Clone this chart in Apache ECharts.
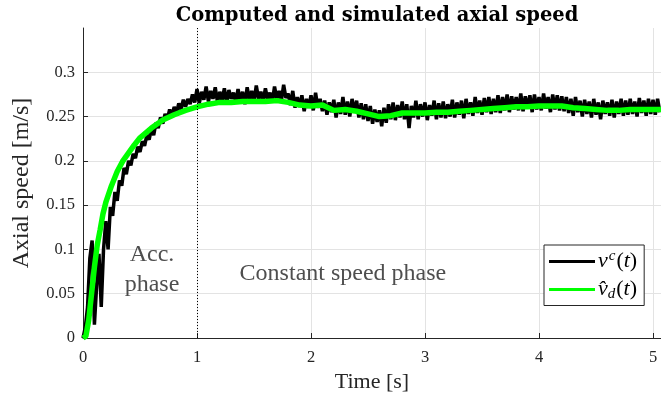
<!DOCTYPE html>
<html>
<head>
<meta charset="utf-8">
<script src="https://cdn.jsdelivr.net/npm/echarts@6/dist/echarts.min.js"></script>
<style>
    html, body { margin: 0; padding: 0; background: #fff; }
    #chart { width: 661px; height: 401px; }
</style>
</head>
<body>
<div id="chart"></div>
<script>
var blackStep = 0.02;
var blackSpeed = [
    0, 0.012, 0.035, 0.09, 0.11, 0.015, 0.06, 0.095, 0.035, 0.1,
    0.132, 0.1, 0.148, 0.138, 0.165, 0.155, 0.178, 0.172, 0.192, 0.185,
    0.2, 0.195, 0.208, 0.203, 0.216, 0.21, 0.222, 0.217, 0.229, 0.224,
    0.236, 0.229, 0.243, 0.237, 0.249, 0.242, 0.253, 0.247, 0.258, 0.251,
    0.261, 0.254, 0.265, 0.258, 0.269, 0.261, 0.27, 0.264, 0.275, 0.266,
    0.281, 0.265, 0.278, 0.269, 0.284, 0.267, 0.279, 0.27, 0.283, 0.266,
    0.278, 0.268, 0.282, 0.265, 0.28, 0.27, 0.277, 0.266, 0.281, 0.268,
    0.278, 0.264, 0.283, 0.269, 0.279, 0.267, 0.285, 0.27, 0.278, 0.267,
    0.282, 0.269, 0.277, 0.266, 0.284, 0.27, 0.279, 0.268, 0.286, 0.271,
    0.276, 0.263, 0.279, 0.26, 0.272, 0.261, 0.274, 0.256, 0.27, 0.26,
    0.274, 0.257, 0.277, 0.26, 0.27, 0.256, 0.268, 0.252, 0.266, 0.255,
    0.269, 0.249, 0.266, 0.253, 0.272, 0.252, 0.267, 0.25, 0.27, 0.255,
    0.268, 0.249, 0.265, 0.247, 0.264, 0.245, 0.262, 0.242, 0.258, 0.244,
    0.257, 0.239, 0.26, 0.243, 0.264, 0.247, 0.266, 0.246, 0.263, 0.249,
    0.267, 0.247, 0.264, 0.237, 0.262, 0.249, 0.268, 0.247, 0.264, 0.25,
    0.266, 0.246, 0.263, 0.251, 0.268, 0.247, 0.265, 0.249, 0.267, 0.248,
    0.264, 0.25, 0.269, 0.249, 0.266, 0.252, 0.268, 0.248, 0.27, 0.253,
    0.266, 0.251, 0.272, 0.254, 0.268, 0.252, 0.271, 0.255, 0.272, 0.253,
    0.27, 0.255, 0.274, 0.254, 0.272, 0.257, 0.275, 0.255, 0.273, 0.258,
    0.272, 0.257, 0.276, 0.256, 0.273, 0.259, 0.274, 0.255, 0.275, 0.258,
    0.272, 0.257, 0.276, 0.259, 0.272, 0.255, 0.275, 0.258, 0.274, 0.257,
    0.273, 0.256, 0.272, 0.254, 0.27, 0.251, 0.272, 0.255, 0.268, 0.25,
    0.269, 0.253, 0.267, 0.249, 0.27, 0.252, 0.266, 0.247, 0.268, 0.253,
    0.266, 0.251, 0.269, 0.249, 0.267, 0.253, 0.27, 0.251, 0.268, 0.252,
    0.27, 0.253, 0.267, 0.25, 0.271, 0.254, 0.268, 0.251, 0.27, 0.253,
    0.269, 0.252, 0.27, 0.255
];

// simulated speed v_d(t)
var greenTime = [
    0, 0.025, 0.05, 0.075, 0.1, 0.125, 0.15, 0.175, 0.2, 0.25,
    0.3, 0.35, 0.4, 0.45, 0.5, 0.6, 0.7, 0.8, 0.9, 1.0,
    1.1, 1.2, 1.3, 1.4, 1.5, 1.6, 1.7, 1.8, 1.9, 2.0,
    2.1, 2.2, 2.3, 2.4, 2.5, 2.6, 2.7, 2.8, 2.9, 3.0,
    3.1, 3.2, 3.3, 3.4, 3.5, 3.6, 3.7, 3.8, 3.9, 4.0,
    4.1, 4.2, 4.3, 4.4, 4.5, 4.6, 4.7, 4.8, 4.9, 5.0, 5.07
];
var greenSpeed = [
    0, 0.002, 0.02, 0.05, 0.08, 0.105, 0.122, 0.14, 0.153, 0.172,
    0.188, 0.2, 0.209, 0.218, 0.226, 0.237, 0.246, 0.252, 0.257, 0.261,
    0.264, 0.266, 0.266, 0.267, 0.267, 0.267, 0.268, 0.266, 0.263, 0.262,
    0.263, 0.257, 0.258, 0.256, 0.253, 0.25, 0.251, 0.254, 0.254, 0.254,
    0.255, 0.255, 0.256, 0.257, 0.258, 0.259, 0.26, 0.261, 0.261, 0.262,
    0.262, 0.262, 0.26, 0.259, 0.258, 0.257, 0.257, 0.258, 0.258, 0.258, 0.258
];

var phaseSwitch = 1;   // end of acceleration phase [s]
var notes = [
    { text: 'Acc.\nphase', at: [0.605, 0.077] },
    { text: 'Constant speed phase', at: [2.28, 0.073] }
];

var serif = '"Liberation Serif", "DejaVu Serif", serif';
var axisColor = '#262626';

var blackData = blackSpeed.map(function (v, i) { return [i * blackStep, v]; });
var greenData = greenTime.map(function (t, i) { return [t, greenSpeed[i]]; });

var dom = document.getElementById('chart');
var myChart = echarts.init(dom, null, { renderer: 'canvas' });

var legendRich = {
    it: { fontFamily: serif, fontStyle: 'italic', fontSize: 22, color: '#000' },
    rm: { fontFamily: serif, fontSize: 22, color: '#000' },
    sup: { fontFamily: serif, fontStyle: 'italic', fontSize: 15, color: '#000', padding: [0, 1, 10, 1] },
    sub: { fontFamily: serif, fontStyle: 'italic', fontSize: 15, color: '#000', padding: [9, 1, 0, 0] }
};

var option = {
    animation: false,
    backgroundColor: '#fff',
    title: {
        text: 'Computed and simulated axial speed',
        left: 372,
        textAlign: 'center',
        top: 1,
        textStyle: { fontFamily: '"DejaVu Serif", serif', fontWeight: 'bold', fontSize: 19.5, color: '#000' }
    },
    grid: { left: 83, right: 0, top: 28, bottom: 63, containLabel: false },
    legend: {
        left: 544,
        top: 245,
        orient: 'vertical',
        backgroundColor: '#fff',
        borderColor: axisColor,
        borderWidth: 1,
        borderRadius: 0,
        padding: [4, 7, 4, 5],
        itemGap: 6,
        itemWidth: 46,
        itemHeight: 3,
        icon: 'rect',
        textStyle: { rich: legendRich, padding: [0, 0, 0, -2] },
        formatter: function (name) {
            if (name === 'vc') return '{it|v}{sup|c}{rm|(}{it|t}{rm|)}';
            return '{it|v\u0302}{sub|d}{rm|(}{it|t}{rm|)}';
        },
        data: ['vc', 'vd']
    },
    xAxis: {
        type: 'value',
        min: 0,
        max: 5.07,
        interval: 1,
        name: 'Time [s]',
        nameLocation: 'middle',
        nameGap: 33,
        nameTextStyle: { fontFamily: serif, fontSize: 22, color: axisColor },
        axisLine: { show: true, onZero: false, lineStyle: { color: axisColor, width: 1 } },
        axisTick: { show: true, inside: true, length: 5, lineStyle: { color: axisColor } },
        axisLabel: { fontFamily: serif, fontSize: 16.5, color: axisColor, margin: 11, showMaxLabel: false },
        splitLine: { show: true, showMinLine: false, showMaxLine: false, lineStyle: { color: '#e3e3e3', width: 1 } }
    },
    yAxis: {
        type: 'value',
        min: 0,
        max: 0.35,
        interval: 0.05,
        name: 'Axial speed [m/s]',
        nameLocation: 'middle',
        nameGap: 49,
        nameTextStyle: { fontFamily: serif, fontSize: 24, color: axisColor },
        axisLine: { show: true, onZero: false, lineStyle: { color: axisColor, width: 1 } },
        axisTick: { show: true, inside: true, length: 5, lineStyle: { color: axisColor } },
        axisLabel: {
            fontFamily: serif, fontSize: 16.5, color: axisColor, margin: 8, showMaxLabel: false,
            formatter: function (v) { return String(+v.toFixed(2)); }
        },
        splitLine: { show: true, showMinLine: false, showMaxLine: false, lineStyle: { color: '#e3e3e3', width: 1 } }
    },
    series: [
        {
            name: 'vc',
            type: 'line',
            data: blackData,
            showSymbol: false,
            symbol: 'none',
            color: '#000',
            lineStyle: { color: '#000', width: 3.5 },
            z: 2,
            markLine: {
                silent: true,
                symbol: 'none',
                label: { show: false },
                lineStyle: { color: '#000', type: [1, 2], width: 1 },
                data: [{ xAxis: phaseSwitch }]
            }
        },
        {
            name: 'vd',
            type: 'line',
            data: greenData,
            showSymbol: false,
            symbol: 'none',
            color: '#00ff00',
            lineStyle: { color: '#00ff00', width: 5.5 },
            z: 3
        },
        {
            name: 'notes',
            type: 'scatter',
            symbolSize: 0,
            silent: true,
            data: notes.map(function (n) { return { value: n.at, name: n.text }; }),
            label: {
                show: true,
                position: 'inside',
                formatter: function (p) { return p.name; },
                fontFamily: serif,
                fontSize: 24,
                lineHeight: 30,
                color: '#222',
                align: 'center',
                verticalAlign: 'middle'
            },
            z: 4
        }
    ]
};

myChart.setOption(option);
window.addEventListener('resize', myChart.resize);
</script>
</body>
</html>
